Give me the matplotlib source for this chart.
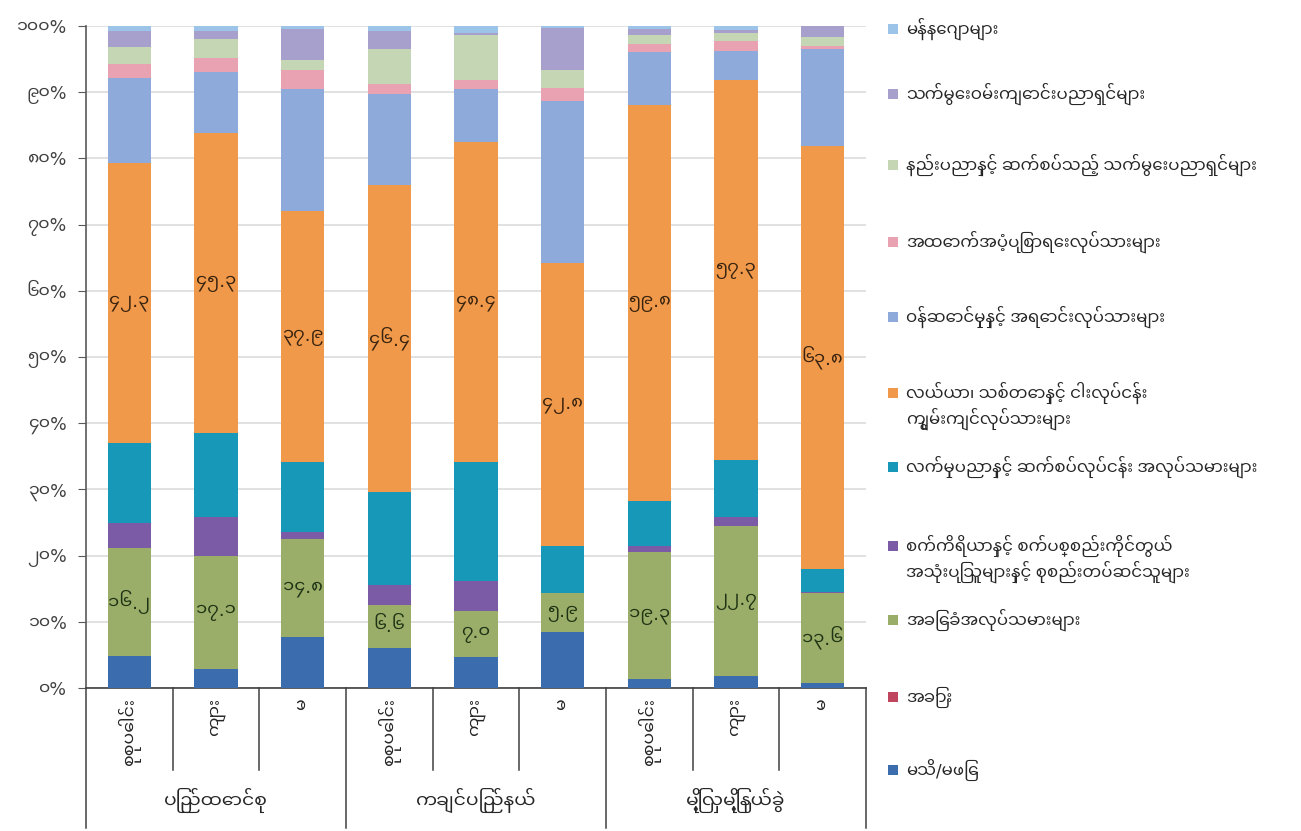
import matplotlib
matplotlib.use("Agg")
import matplotlib.pyplot as plt
import numpy as np
from matplotlib import font_manager
from matplotlib.ft2font import FT2Font
from matplotlib.patches import Rectangle
import matplotlib.transforms as mtransforms

# ---------------- data ----------------
groups = ["ပြည်ထောင်စု", "ကချင်ပြည်နယ်", "မြို့လှမြို့နယ်ခွဲ"]
subcats = ["စုစုပေါင်း", "ကျား", "မ"]

series_names = [
    "မသိ/မဖြေ",
    "အခြား",
    "အခြေခံအလုပ်သမားများ",
    "စက်ကိရိယာနှင့် စက်ပစ္စည်းကိုင်တွယ်\nအသုံးပြုသူများနှင့် စုစည်းတပ်ဆင်သူများ",
    "လက်မှုပညာနှင့် ဆက်စပ်လုပ်ငန်း အလုပ်သမားများ",
    "လယ်ယာ၊ သစ်တောနှင့် ငါးလုပ်ငန်း\nကျွမ်းကျင်လုပ်သားများ",
    "ဝန်ဆောင်မှုနှင့် အရောင်းလုပ်သားများ",
    "အထောက်အပံ့ပြုစာရေးလုပ်သားများ",
    "နည်းပညာနှင့် ဆက်စပ်သည့် သက်မွေးပညာရှင်များ",
    "သက်မွေးဝမ်းကျောင်းပညာရှင်များ",
    "မန်နေဂျာများ",
]

unknown       = [4.9, 2.9, 7.7, 6.0, 4.7, 8.4, 1.3, 1.8, 0.8]
other         = [0.0, 0.0, 0.0, 0.0, 0.0, 0.0, 0.0, 0.0, 0.0]
elementary    = [16.2, 17.1, 14.8, 6.6, 7.0, 5.9, 19.3, 22.7, 13.6]
machine_ops   = [3.9, 5.9, 1.0, 3.0, 4.4, 0.1, 0.8, 1.4, 0.1]
craft         = [12.0, 12.6, 10.6, 14.0, 18.0, 7.0, 6.8, 8.6, 3.5]
agriculture   = [42.3, 45.3, 37.9, 46.4, 48.4, 42.8, 59.8, 57.3, 63.8]
service_sales = [12.8, 9.3, 18.5, 13.8, 8.0, 24.4, 8.1, 4.4, 14.8]
clerical      = [2.2, 2.0, 2.8, 1.5, 1.3, 2.0, 1.2, 1.5, 0.4]
technicians   = [2.5, 3.0, 1.6, 5.3, 6.8, 2.7, 1.3, 1.3, 1.4]
professionals = [2.4, 1.1, 4.7, 2.6, 0.4, 6.4, 0.9, 0.4, 1.6]
managers      = [0.8, 0.8, 0.4, 0.8, 1.0, 0.3, 0.5, 0.6, 0.0]

series_values = [unknown, other, elementary, machine_ops, craft, agriculture,
                 service_sales, clerical, technicians, professionals, managers]
colors = ["#3b6dae", "#c0455f", "#9aae6a", "#7b5aa6", "#1798b8", "#f0994a",
          "#8eaadb", "#e8a2b2", "#c5d6b4", "#a8a0cc", "#9cc4e8"]
labelled = {2: "#1f3315", 5: "#3a2410"}

ytick_vals = [0, 10, 20, 30, 40, 50, 60, 70, 80, 90, 100]

# ---------------- fonts ----------------
def find_myanmar_font():
    best, best_score = None, None
    seen = set()
    for f in font_manager.fontManager.ttflist:
        if "CJK" in f.name or f.fname in seen:
            continue
        seen.add(f.fname)
        try:
            ft = FT2Font(f.fname)
            cm = ft.get_charmap()
        except Exception:
            continue
        if not (0x1000 in cm and 0x1040 in cm):
            continue
        try:
            ft.set_size(12, 72)
            base = ft.load_char(0x1000).horiAdvance
            marks = sum(ft.load_char(c).horiAdvance
                        for c in (0x103A, 0x102D, 0x102F, 0x1037) if c in cm)
            digits = ft.load_char(0x1041).horiAdvance
            score = marks / max(base, 1) + digits / max(base, 1)
        except Exception:
            score = 99
        if f.weight not in (400, "normal", "regular"):
            score += 0.5
        if best_score is None or score < best_score:
            best, best_score = f.name, score
    return best

mm = find_myanmar_font()
fam = [mm, "DejaVu Sans"] if mm else ["DejaVu Sans"]
plt.rcParams["font.family"] = fam

MM_DIGITS = str.maketrans("0123456789", "၀၁၂၃၄၅၆၇၈၉")
def mmnum(s):
    return s.translate(MM_DIGITS)

# ---------------- figure ----------------
W, H = 1301, 831
fig = plt.figure(figsize=(W / 100, H / 100), dpi=100)
ax = fig.add_axes([86 / W, 1 - 688 / H, (866 - 86) / W, (688 - 26) / H])

n = len(unknown)
x = np.arange(n)
bottom = np.zeros(n)
for i, (vals, col) in enumerate(zip(series_values, colors)):
    vals = np.array(vals, dtype=float)
    ax.bar(x, vals, width=0.5, bottom=bottom, color=col, linewidth=0, zorder=3)
    if i in labelled:
        for xi, b, v in zip(x, bottom, vals):
            ax.text(xi, b + v / 2, mmnum(f"{v:.1f}"), ha="center", va="center",
                    fontsize=13, color=labelled[i], zorder=4)
    bottom += vals

ax.set_xlim(-0.5, n - 0.5)
ax.set_ylim(0, 100)
ax.set_yticks(ytick_vals)
ax.set_yticklabels([mmnum(f"{v}") + "%" for v in ytick_vals], fontsize=12.5,
                   color="#404040")
ax.yaxis.grid(True, color="#d9d9d9", linewidth=1.1, zorder=0)
ax.set_axisbelow(True)
ax.tick_params(axis="y", direction="out", length=6, color="#595959", pad=8)
ax.set_xticks([])
for s in ["top", "right"]:
    ax.spines[s].set_visible(False)
ax.spines["left"].set_color("#595959")
ax.spines["bottom"].set_color("#404040")
ax.spines["left"].set_linewidth(1.2)
ax.spines["bottom"].set_linewidth(1.2)

# category axis: separators and labels
trans = mtransforms.blended_transform_factory(ax.transData, ax.transAxes)
y_inner = -(770 - 688) / (688 - 26)
y_outer = -(828 - 688) / (688 - 26)
for k in range(n + 1):
    xb = k - 0.5
    yend = y_outer if k % 3 == 0 else y_inner
    ax.plot([xb, xb], [0, yend], transform=trans, color="#404040",
            linewidth=1.1, clip_on=False)
for k in range(n):
    ax.text(k, -0.015, subcats[k % 3], transform=trans, rotation=90,
            ha="center", va="top", fontsize=12.5, color="#262626")
for g, name in enumerate(groups):
    ax.text(3 * g + 1, -(800 - 688) / (688 - 26), name, transform=trans,
            ha="center", va="center", fontsize=13.5, color="#262626")

# legend (top to bottom)
first_line_y = [29, 94, 165, 242, 317, 393, 467, 546, 620, 697, 770]
for idx, yy in zip(range(len(series_names) - 1, -1, -1), first_line_y):
    fig.add_artist(Rectangle(((888) / W, 1 - (yy + 5) / H), 10 / W, 10 / H,
                             transform=fig.transFigure, facecolor=colors[idx],
                             edgecolor="none"))
    lines = series_names[idx].split("\n")
    for j, ln in enumerate(lines):
        fig.text(906 / W, 1 - (yy + 26 * j) / H, ln, ha="left", va="center",
                 fontsize=12, color="#262626")

fig.savefig("out.png", dpi=100)
